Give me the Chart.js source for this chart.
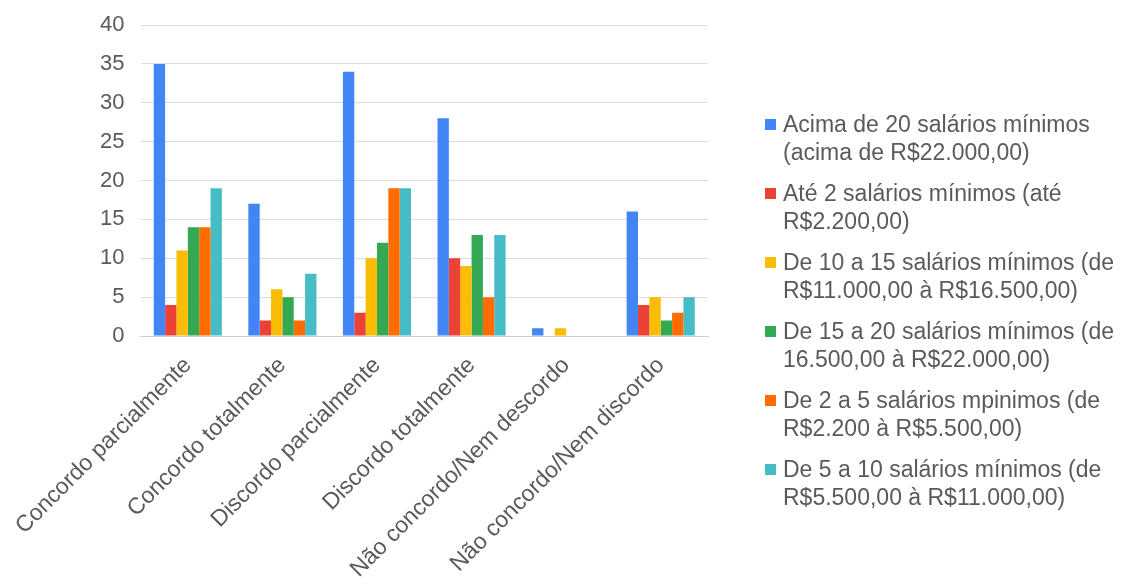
<!DOCTYPE html>
<html>
<head>
<meta charset="utf-8">
<script src="https://cdn.jsdelivr.net/npm/chart.js@4"></script>
<style>
  body { margin: 0; background: #fff; }
  #wrap { position: relative; width: 1138px; height: 587px; }
  #legend { position: absolute; left: 765px; top: 110px; font-family: "Liberation Sans", Arial, sans-serif; font-size: 23px; color: #5a5a5a; }
  .item { position: relative; padding-left: 18px; line-height: 28px; margin-bottom: 13px; white-space: nowrap; }
  .box { position: absolute; left: 0; top: 9px; width: 11px; height: 11px; }
</style>
</head>
<body>
<div id="wrap">
  <canvas id="bar-chart"></canvas>
  <div id="legend"></div>
</div>
<script>
/*==================== dados ====================*/
const categorias = ["Concordo parcialmente", "Concordo totalmente", "Discordo parcialmente",
                    "Discordo totalmente", "Não concordo/Nem descordo", "Não concordo/Nem discordo"];

const acima20 = [35, 17, 34, 28, 1, 16];
const ate2 = [4, 2, 3, 10, 0, 4];
const de10a15 = [11, 6, 10, 9, 1, 5];
const de15a20 = [14, 5, 12, 13, 0, 2];
const de2a5 = [14, 2, 19, 5, 0, 3];
const de5a10 = [19, 8, 19, 13, 0, 5];

// nomes das séries (duas linhas cada)
const nomes = [
    ["Acima de 20 salários mínimos", "(acima de R$22.000,00)"],
    ["Até 2 salários mínimos (até", "R$2.200,00)"],
    ["De 10 a 15 salários mínimos (de", "R$11.000,00 à R$16.500,00)"],
    ["De 15 a 20 salários mínimos (de", "16.500,00 à R$22.000,00)"],
    ["De 2 a 5 salários mpinimos (de", "R$2.200 à R$5.500,00)"],
    ["De 5 a 10 salários mínimos (de", "R$5.500,00 à R$11.000,00)"]
];
const valores = [acima20, ate2, de10a15, de15a20, de2a5, de5a10];
const cores = ["#4285F4", "#EA4335", "#FBBC04", "#34A853", "#FF6D01", "#46BDC6"];
const yTicks = [0, 5, 10, 15, 20, 25, 30, 35, 40];

const fonte = "'Liberation Sans', Arial, sans-serif";

new Chart(document.getElementById("bar-chart"), {
    type: 'bar',
    data: {
        labels: categorias,
        datasets: valores.map((v, i) => ({
            label: nomes[i].join(" "),
            data: v,
            backgroundColor: cores[i],
            borderWidth: 0,
            categoryPercentage: 0.72,
            barPercentage: 1.0
        }))
    },
    options: {
        responsive: true,
        maintainAspectRatio: false,
        animation: false,
        layout: { autoPadding: false, padding: { top: 25, right: 430, left: 0, bottom: 0 } },
        plugins: {
            legend: { display: false },
            tooltip: { enabled: false }
        },
        scales: {
            x: {
                grid: { display: false },
                border: { display: true, color: "#d0d0d0" },
                ticks: {
                    color: "#5a5a5a",
                    font: { family: fonte, size: 23 },
                    maxRotation: 45,
                    minRotation: 45,
                    padding: 8
                },
                afterFit: s => { s.height = 251; }
            },
            y: {
                min: 0,
                max: 40,
                grid: { color: "#dcdcdc", drawTicks: false },
                border: { display: false },
                ticks: {
                    stepSize: 5,
                    color: "#5a5a5a",
                    font: { family: fonte, size: 22 },
                    padding: 16,
                    callback: v => yTicks.includes(v) ? v : ""
                },
                // largura fixa e sem folga extra no topo
                afterFit: s => { s.width = 140; s.paddingTop = 0; s.paddingBottom = 0; }
            }
        }
    }
});

// legenda HTML
const leg = document.getElementById("legend");
nomes.forEach((n, i) => {
    const d = document.createElement("div");
    d.className = "item";
    d.innerHTML = '<span class="box" style="background:' + cores[i] + '"></span>' + n.join("<br>");
    leg.appendChild(d);
});
</script>
</body>
</html>
